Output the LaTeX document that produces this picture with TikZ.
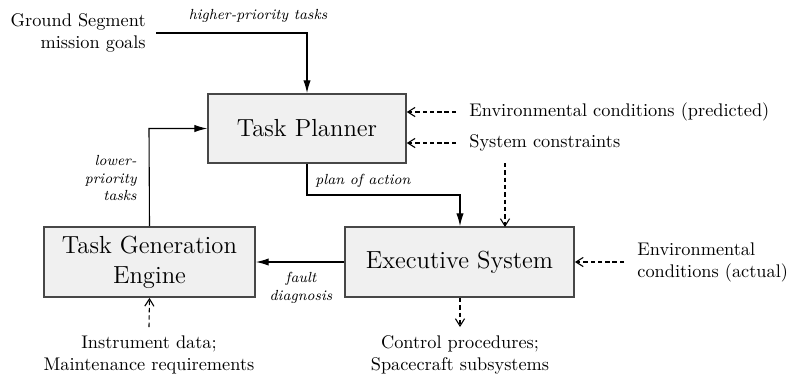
\documentclass[tikz,border=0pt]{standalone}
\usetikzlibrary{arrows.meta}
\begin{document}
\begin{tikzpicture}[x=0.5464pt, y=-0.5464pt,
  box/.style={draw=black!72, fill=black!6, line width=1pt, inner sep=0pt,
    font=\fontsize{13.5}{16.4}\selectfont, align=center},
  txt/.style={inner sep=0pt, font=\normalsize},
  lbl/.style={inner sep=0pt, font=\footnotesize\itshape},
  flow/.style={draw=black, line width=0.6pt, -{Latex[length=7pt,width=4pt]}},
  aux/.style={draw=black, line width=0.6pt, dash pattern=on 2.4pt off 1.6pt,
    -{Straight Barb[length=4pt,width=5pt,line width=0.6pt]}}]
\useasboundingbox (0,0) rectangle (790,380);

% processing blocks
\node[box, minimum width=108pt, minimum height=37.7pt] (tp) at (307,128.5) {Task Planner};
\node[box, minimum width=115.3pt, minimum height=38.2pt] (tge) at (149.5,262) {Task Generation\\Engine};
\node[box, minimum width=125.1pt, minimum height=38.2pt] (es) at (459.5,262) {Executive System};

% external inputs and outputs
\node[txt, align=right, anchor=east] (gs) at (146,33) {Ground Segment\\mission goals};
\node[txt, anchor=west] (envp) at (469,112) {Environmental conditions (predicted)};
\node[txt, anchor=west] (sysc) at (469,143) {System constraints};
\node[txt, align=left, anchor=west] (enva) at (637,262) {Environmental\\conditions (actual)};
\node[txt, align=center] (ctrl) at (460,355) {Control procedures;\\Spacecraft subsystems};
\node[txt, align=center] (instr) at (149,355) {Instrument data;\\Maintenance requirements};

% routing points
\coordinate (gsend) at (156,33);
\coordinate (gsbend) at (307,33);
\coordinate (lpbend) at (149,128.5);
\coordinate (pa1) at (307,195);
\coordinate (pa2) at (460,195);

% main flows
\draw[flow] (gsend) -- (gsbend) -- (tp.north);
\draw[flow] (tge.north) -- (lpbend) -- (tp.west);
\draw[flow] (tp.south) -- (pa1) -- (pa2) -- (pa2 |- es.north);
\draw[flow] (es.west) -- (tge.east);

% flow labels
\node[lbl] (hpt) at (258,16) {higher-priority tasks};
\node[lbl, align=right, anchor=east] (lpt) at (137,178) {lower-\\priority\\tasks};
\node[lbl, anchor=west] (poa) at (315,181) {plan of action};
\node[lbl, align=center] (fd) at (301,288) {fault\\diagnosis};

% auxiliary dashed flows
\draw[aux] ([xshift=-7]envp.west) -- (tp.east |- envp.west);
\draw[aux] ([xshift=-7]sysc.west) -- (tp.east |- sysc.west);
\draw[aux] (505,163) -- (505,227);
\draw[aux] ([xshift=-7]enva.west) -- (es.east);
\draw[aux] (es.south -| 460,0) -- (460,327);
\draw[aux] (149,327) -- (tge.south);
\end{tikzpicture}
\end{document}
